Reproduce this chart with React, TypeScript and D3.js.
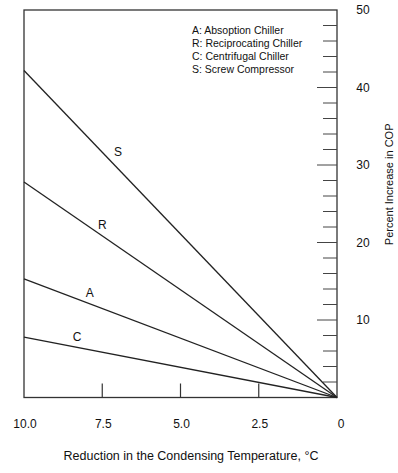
import React from 'react';
import * as d3 from 'd3';

// values at 10 °C reduction; every line goes to 0 at 0 °C
const series = ['S', 'R', 'A', 'C'];
const valuesAt10 = [42.2, 27.8, 15.3, 7.8];
const labelAt = [7.0, 7.5, 7.9, 8.3];
const legendLines = [
  'A: Absoption Chiller',
  'R: Reciprocating Chiller',
  'C: Centrifugal Chiller',
  'S: Screw Compressor',
];
const xTicks = [10, 7.5, 5, 2.5, 0];
const yTicks = [10, 20, 30, 40, 50];

const App = () => {
  const width = 398;
  const height = 473;
  const margin = { top: 10, right: 61, bottom: 75, left: 24 };

  const x = d3.scaleLinear().domain([10, 0]).range([margin.left, width - margin.right]);
  const y = d3.scaleLinear().domain([0, 50]).range([height - margin.bottom - 0.5, margin.top]);

  const line = d3
    .line<[number, number]>()
    .x((d) => x(d[0]))
    .y((d) => y(d[1]));

  const minor = d3.range(2, 50, 2);
  const font = 'Liberation Sans, Arial, sans-serif';
  const x0 = x(10);
  const x1 = x(0);
  const yb = y(0);
  const yt = y(50);

  return (
    <svg
      width={width}
      height={height}
      style={{ position: 'absolute', left: 0, top: 0, background: '#fff' }}
      fontFamily={font}
    >
      {/* frame */}
      <rect x={x0} y={yt} width={x1 - x0} height={yb - yt} fill='none' stroke='#333' strokeWidth={1.3} />

      {/* right axis ticks (inside) */}
      {minor.map((v) => (
        <line
          key={v}
          x1={x1 - (v % 10 === 0 ? 20 : 14)}
          x2={x1}
          y1={y(v)}
          y2={y(v)}
          stroke='#444'
          strokeWidth={1}
        />
      ))}
      {yTicks.map((v) => (
        <text key={v} x={x1 + 26} y={y(v)} dy='0.35em' textAnchor='middle' fontSize={12} fill='#111'>
          {v}
        </text>
      ))}
      <text
        transform={`translate(${width - 9},${y(27.5)}) rotate(-90)`}
        textAnchor='middle'
        dy='0.35em'
        fontSize={11}
        fill='#111'
      >
        Percent Increase in COP
      </text>

      {/* bottom axis ticks (inside) */}
      {xTicks
        .filter((v) => v !== 0 && v !== 10)
        .map((v) => (
          <line key={v} x1={x(v)} x2={x(v)} y1={yb} y2={yb - 14} stroke='#333' strokeWidth={1.2} />
        ))}
      {xTicks.map((v) => (
        <text
          key={v}
          x={x(v) + (v === 0 ? 4 : 1)}
          y={yb + 26}
          dy='0.35em'
          textAnchor='middle'
          fontSize={12}
          fill='#111'
        >
          {v === 0 ? '0' : v.toFixed(1)}
        </text>
      ))}
      <text x={191} y={yb + 58} dy='0.35em' textAnchor='middle' fontSize={12.5} fill='#111'>
        Reduction in the Condensing Temperature, °C
      </text>

      {/* lines */}
      {series.map((s, i) => (
        <path
          key={s}
          d={line([
            [10, valuesAt10[i]],
            [0, 0],
          ]) as string}
          fill='none'
          stroke='#222'
          strokeWidth={1.3}
        />
      ))}
      {series.map((s, i) => {
        const lx = labelAt[i];
        const ly = (valuesAt10[i] * lx) / 10;
        return (
          <text
            key={s}
            x={x(lx)}
            y={y(ly) - (i === 0 ? 17 : 11)}
            dy='0.35em'
            textAnchor='middle'
            fontSize={12}
            fill='#111'
          >
            {s}
          </text>
        );
      })}

      {/* legend */}
      {legendLines.map((t, i) => (
        <text key={t} x={192} y={30 + i * 13} dy='0.35em' fontSize={10.5} fill='#111'>
          {t}
        </text>
      ))}
    </svg>
  );
};

export default App;
